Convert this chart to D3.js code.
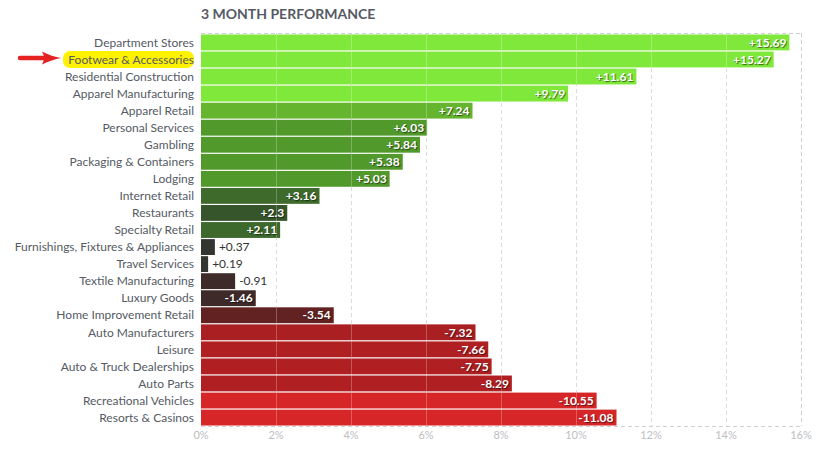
<!DOCTYPE html>
<html><head><meta charset="utf-8">
<script src="https://cdn.jsdelivr.net/npm/d3@7"></script>
<style>
body{margin:0;background:#fff;}
svg{font-family:Lato,"Open Sans",sans-serif;}
</style></head>
<body><svg id="c" width="835" height="458"></svg>
<script>
const categories = ["Department Stores","Footwear & Accessories","Residential Construction","Apparel Manufacturing","Apparel Retail","Personal Services","Gambling","Packaging & Containers","Lodging","Internet Retail","Restaurants","Specialty Retail","Furnishings, Fixtures & Appliances","Travel Services","Textile Manufacturing","Luxury Goods","Home Improvement Retail","Auto Manufacturers","Leisure","Auto & Truck Dealerships","Auto Parts","Recreational Vehicles","Resorts & Casinos"];
const values = [15.69,15.27,11.61,9.79,7.24,6.03,5.84,5.38,5.03,3.16,2.3,2.11,0.37,0.19,-0.91,-1.46,-3.54,-7.32,-7.66,-7.75,-8.29,-10.55,-11.08];
const tickValues = [0,2,4,6,8,10,12,14,16];
const title = "3 MONTH PERFORMANCE";
const highlighted = "Footwear & Accessories";

// style: colour per bar (by row)
const barColors = ["#80e83a","#80e83a","#80e83a","#80e83a","#65b52f","#52992b","#52992b","#52992b","#52992b","#3e6b2c","#36552a","#3d6a2c","#333531","#333531","#3f2a2a","#3f2a2a","#632222","#a91f22","#b02022","#b02022","#b02022","#d62628","#d62628"];

const svg = d3.select("#c");
const L = 201, R = 801, T = 33, B = 426;
const x = d3.scaleLinear().domain([0,16]).range([L,R]);
const y = d3.scaleBand().domain(categories).range([T+1,B]).paddingInner(0.07).paddingOuter(0.03);

const data = categories.map((c,i)=>({c, v: values[i], col: barColors[i]}));

// highlight + arrow
const hy = y(highlighted) + y.bandwidth()/2;
svg.append("rect").attr("x",63).attr("y",hy-8.5).attr("width",131).attr("height",17).attr("rx",7).attr("fill","#fff200");
svg.append("line").attr("x1",20).attr("x2",46).attr("y1",hy-1.5).attr("y2",hy-1.5)
  .attr("stroke","#e52222").attr("stroke-width",4.5).attr("stroke-linecap","round");
svg.append("path").attr("d",`M${42},${hy-8} Q${52},${hy-3} ${61},${hy-1.5} Q${52},${hy} ${42},${hy+5} Q${46},${hy-1.5} ${42},${hy-8} Z`).attr("fill","#e52222");

// title
svg.append("text").attr("x",L).attr("y",19).attr("font-size",14).attr("font-weight","bold")
  .attr("fill","#555a64").text(title);

// frame lines (dashed)
const grid = svg.append("g");
grid.selectAll("line.v").data(tickValues.slice(1)).join("line")
  .attr("x1",d=>x(d)+0.5).attr("x2",d=>x(d)+0.5).attr("y1",T).attr("y2",B)
  .attr("stroke","#cfcfd4").attr("stroke-dasharray","4,3");
[T,B].forEach(yy=>grid.append("line").attr("x1",L).attr("x2",R).attr("y1",yy+0.5).attr("y2",yy+0.5)
  .attr("stroke","#cfcfd4").attr("stroke-dasharray","4,3"));

// bars
svg.append("g").selectAll("rect").data(data).join("rect")
  .attr("x",L).attr("y",d=>y(d.c)).attr("height",y.bandwidth())
  .attr("width",d=>x(Math.abs(d.v))-L).attr("fill",d=>d.col);

// faint grid over bars
svg.append("g").selectAll("line").data(tickValues.slice(1,-1)).join("line")
  .attr("x1",d=>x(d)+0.5).attr("x2",d=>x(d)+0.5).attr("y1",T+1).attr("y2",B)
  .attr("stroke","#ffffff").attr("stroke-opacity",0.25);

// category labels
svg.append("g").selectAll("text").data(data).join("text")
  .attr("x",194).attr("y",d=>y(d.c)+y.bandwidth()/2).attr("dy","0.35em")
  .attr("text-anchor","end").attr("font-size",12).attr("fill","#555a64").text(d=>d.c);

// value labels
const fmt = v => (v>0?"+":"") + v;
const vl = svg.append("g");
data.forEach(d=>{
  const w = x(Math.abs(d.v))-L;
  const inside = w > 45;
  const t = vl.append("text").attr("y",y(d.c)+y.bandwidth()/2).attr("dy","0.35em").attr("font-size",12).text(fmt(d.v));
  if(inside){
    t.attr("x",L+w-3).attr("text-anchor","end").attr("fill","#fff").attr("font-weight","bold")
     .style("text-shadow","1px 1px 1px rgba(0,0,0,0.55)");
  } else {
    t.attr("x",L+w+4).attr("text-anchor","start").attr("fill","#333");
  }
});

// axis tick labels
svg.append("g").selectAll("text").data(tickValues).join("text")
  .attr("x",d=>x(d)).attr("y",435).attr("dy","0.35em").attr("text-anchor","middle")
  .attr("font-size",11).attr("fill","#bdbdc2").text(d=>d+"%");
</script></body></html>
